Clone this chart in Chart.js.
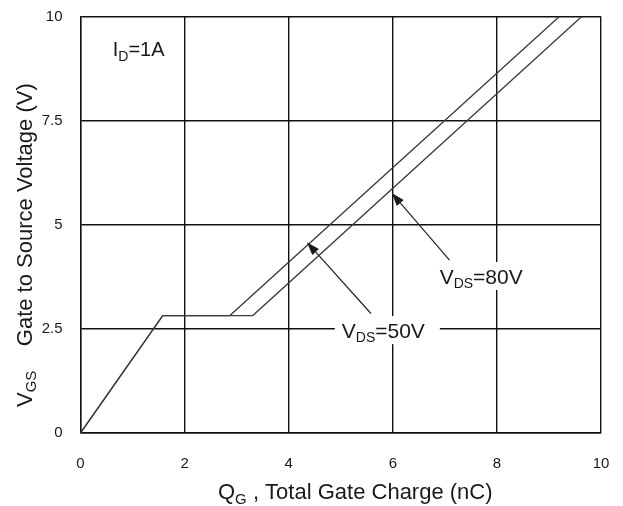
<!DOCTYPE html>
<html>
<head>
<meta charset="utf-8">
<script src="https://cdn.jsdelivr.net/npm/chart.js@4.4.1/dist/chart.umd.min.js"></script>
<style>
  html, body { margin: 0; padding: 0; background: #fff; }
  #wrap { width: 623px; height: 506px; }
</style>
</head>
<body>
<div id="wrap"><canvas id="c" width="623" height="506"></canvas></div>
<script>
// Gate charge curves: Q_G (nC) vs V_GS (V), I_D = 1A
const qgVds50  = [0, 1.58, 2.87, 9.20];
const vgsVds50 = [0, 2.82, 2.82, 10];
const qgVds80  = [0, 1.58, 3.31, 9.63];
const vgsVds80 = [0, 2.82, 2.82, 10];

// Axis ticks
const xTickValues = [0, 2, 4, 6, 8, 10];
const yTickValues = [0, 2.5, 5, 7.5, 10];

const FONT = '"Liberation Sans", Arial, sans-serif';
const INK = '#1a1a1a';

const toPoints = (xs, ys) => xs.map((x, i) => ({ x, y: ys[i] }));

// Callouts: text with subscripts, an arrow from the text to its curve
const callouts = [
  { parts: [['V', 0], ['DS', 1], ['=80V', 0]], left: 6.90, mid: 3.77, padL: 6, padR: 8,
    arrowFrom: [7.09, 4.15], arrowTo: [5.98, 5.76] },
  { parts: [['V', 0], ['DS', 1], ['=50V', 0]], left: 5.02, mid: 2.47, padL: 7, padR: 15,
    arrowFrom: [5.58, 2.87], arrowTo: [4.35, 4.58] }
];
const condition = { parts: [['I', 0], ['D', 1], ['=1A', 0]], left: 0.62, mid: 9.22, size: 20 };

function partsWidth(ctx, parts, size) {
  let w = 0;
  for (const [t, sub] of parts) {
    ctx.font = (sub ? Math.round(size * 0.68) : size) + 'px ' + FONT;
    w += ctx.measureText(t).width;
  }
  return w;
}

function drawParts(ctx, parts, x, baseline, size) {
  let cx = x;
  ctx.textAlign = 'left';
  ctx.textBaseline = 'alphabetic';
  for (const [t, sub] of parts) {
    ctx.font = (sub ? Math.round(size * 0.68) : size) + 'px ' + FONT;
    ctx.fillText(t, cx, baseline + (sub ? size * 0.22 : 0));
    cx += ctx.measureText(t).width;
  }
  return cx - x;
}

function arrow(ctx, x1, y1, x2, y2) {
  const ang = Math.atan2(y2 - y1, x2 - x1);
  const len = 13, half = 4.5;
  const bx = x2 - len * Math.cos(ang), by = y2 - len * Math.sin(ang);
  ctx.beginPath();
  ctx.moveTo(x1, y1);
  ctx.lineTo(bx, by);
  ctx.stroke();
  ctx.beginPath();
  ctx.moveTo(x2, y2);
  ctx.lineTo(bx + half * Math.sin(ang), by - half * Math.cos(ang));
  ctx.lineTo(bx - half * Math.sin(ang), by + half * Math.cos(ang));
  ctx.closePath();
  ctx.fill();
}

const annotations = {
  id: 'annotations',
  afterDatasetsDraw(chart) {
    const { ctx, scales: { x, y } } = chart;
    ctx.save();
    const size = 21;
    for (const c of callouts) {
      const lx = x.getPixelForValue(c.left);
      const my = y.getPixelForValue(c.mid);
      const w = partsWidth(ctx, c.parts, size);
      ctx.fillStyle = '#fff';
      ctx.fillRect(lx - c.padL, my - 14, w + c.padL + c.padR, 28);
      ctx.fillStyle = INK;
      drawParts(ctx, c.parts, lx, my + size * 0.36, size);
      ctx.strokeStyle = '#2a2a2a';
      ctx.fillStyle = '#1a1a1a';
      ctx.lineWidth = 1.3;
      arrow(ctx,
        x.getPixelForValue(c.arrowFrom[0]), y.getPixelForValue(c.arrowFrom[1]),
        x.getPixelForValue(c.arrowTo[0]), y.getPixelForValue(c.arrowTo[1]));
    }
    ctx.fillStyle = INK;
    drawParts(ctx, condition.parts, x.getPixelForValue(condition.left),
      y.getPixelForValue(condition.mid) + condition.size * 0.36, condition.size);
    ctx.restore();
  },
  afterDraw(chart) {
    const { ctx, chartArea } = chart;
    ctx.save();
    ctx.fillStyle = INK;
    // x-axis title
    drawParts(ctx, [['Q', 0], ['G', 1], [' , Total Gate Charge (nC)', 0]],
      chartArea.left + 137.5, 499, 22);
    // y-axis title, reading upward
    ctx.translate(31.5, 407);
    ctx.rotate(-Math.PI / 2);
    drawParts(ctx, [['V', 0], ['GS', 1], ['    Gate to Source Voltage (V)', 0]], 0, 0, 22);
    ctx.restore();
  }
};

const lineStyle = { borderColor: '#3c3c3c', borderWidth: 1.3, pointRadius: 0, showLine: true, fill: false, tension: 0 };

new Chart(document.getElementById('c'), {
  type: 'scatter',
  data: {
    datasets: [
      { label: 'VDS=50V', data: toPoints(qgVds50, vgsVds50), ...lineStyle },
      { label: 'VDS=80V', data: toPoints(qgVds80, vgsVds80), ...lineStyle }
    ]
  },
  options: {
    responsive: false,
    animation: false,
    devicePixelRatio: 1,
    layout: { autoPadding: false, padding: { left: 0, right: 22, top: 16.5, bottom: 0 } },
    plugins: { legend: { display: false }, tooltip: { enabled: false } },
    scales: {
      x: {
        type: 'linear', min: 0, max: 10,
        afterBuildTicks: s => { s.ticks = xTickValues.map(v => ({ value: v })); },
        afterFit: s => { s.height = 73; s.paddingLeft = 0; s.paddingRight = 0; },
        grid: { color: '#111', lineWidth: 1.4, drawTicks: false },
        border: { color: '#111', width: 1.4 },
        ticks: { color: INK, padding: 22, font: { family: FONT, size: 15 }, maxRotation: 0 }
      },
      y: {
        type: 'linear', min: 0, max: 10,
        afterBuildTicks: s => { s.ticks = yTickValues.map(v => ({ value: v })); },
        afterFit: s => { s.width = 80.5; s.paddingTop = 0; s.paddingBottom = 0; },
        grid: { color: '#111', lineWidth: 1.4, drawTicks: false },
        border: { color: '#111', width: 1.4 },
        ticks: { color: INK, padding: 18, font: { family: FONT, size: 15 } }
      }
    }
  },
  plugins: [annotations]
});
</script>
</body>
</html>
